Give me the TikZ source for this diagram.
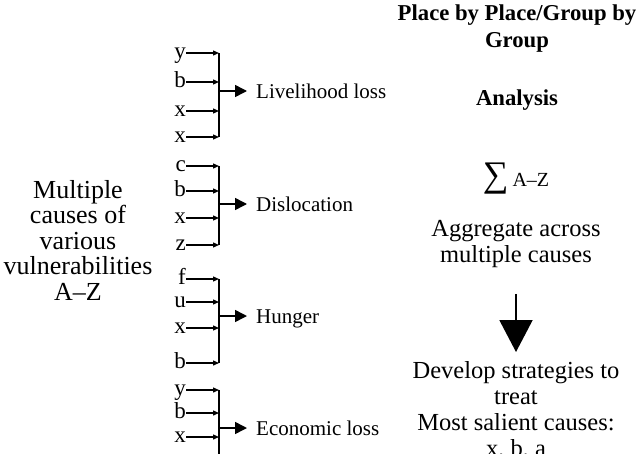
\documentclass[tikz,border=0pt]{standalone}
\usepackage{fontspec}
\setmainfont{Liberation Serif}
\usetikzlibrary{arrows.meta}
\begin{document}
\begin{tikzpicture}[x=1pt,y=-1pt,
  cause/.style={font=\fontsize{23}{23}\selectfont, anchor=base east, inner sep=0pt},
  effect/.style={font=\fontsize{21}{21}\selectfont, anchor=base west, inner sep=0pt},
  block/.style={font=\fontsize{24.5}{26}\selectfont, align=center, inner sep=0pt},
  lefttext/.style={font=\fontsize{26}{25.5}\selectfont, align=center, inner sep=0pt},
  head/.style={font=\bfseries\fontsize{22.7}{27}\selectfont, align=center, inner sep=0pt},
  feed/.style={line width=1.3pt, -{Triangle[length=6pt,width=5pt]}},
  bar/.style={line width=1.6pt},
  outarrow/.style={line width=1.5pt, shorten >=9pt, -{Triangle[length=12pt,width=12pt]}},
  downarrow/.style={line width=2pt, -{Triangle[length=32pt,width=33pt]}}]
\clip (0,0) rectangle (640,453);

% causes on the left
\node[lefttext] (multi) at (78,240)
  {Multiple\\causes of\\various\\vulnerabilities\\A--Z};

% group 1: livelihood loss
\coordinate (g1a) at (219,53);
\coordinate (g1b) at (219,82);
\coordinate (g1c) at (219,111);
\coordinate (g1d) at (219,137);
\coordinate (g1m) at (219,91);
\node[cause] (c1a) at (186,58.5) {y};
\node[cause] (c1b) at (186,87.5) {b};
\node[cause] (c1c) at (186,116.5) {x};
\node[cause] (c1d) at (186,142.5) {x};
\node[effect] (e1) at (256,98) {Livelihood loss};
\draw[bar] (g1a) -- (g1d);
\foreach \k in {a,b,c,d} \draw[feed] (c1\k.east |- g1\k) -- (g1\k);
\draw[outarrow] (g1m) -- (e1.west |- g1m);

% group 2: dislocation
\coordinate (g2a) at (219,166);
\coordinate (g2b) at (219,191);
\coordinate (g2c) at (219,218);
\coordinate (g2d) at (219,245);
\coordinate (g2m) at (219,204);
\node[cause] (c2a) at (186,171.5) {c};
\node[cause] (c2b) at (186,196.5) {b};
\node[cause] (c2c) at (186,223.5) {x};
\node[cause] (c2d) at (186,250.5) {z};
\node[effect] (e2) at (256,211) {Dislocation};
\draw[bar] (g2a) -- (g2d);
\foreach \k in {a,b,c,d} \draw[feed] (c2\k.east |- g2\k) -- (g2\k);
\draw[outarrow] (g2m) -- (e2.west |- g2m);

% group 3: hunger
\coordinate (g3a) at (219,279);
\coordinate (g3b) at (219,302);
\coordinate (g3c) at (219,328);
\coordinate (g3d) at (219,363);
\coordinate (g3m) at (219,316);
\node[cause] (c3a) at (186,284.5) {f};
\node[cause] (c3b) at (186,307.5) {u};
\node[cause] (c3c) at (186,333.5) {x};
\node[cause] (c3d) at (186,368.5) {b};
\node[effect] (e3) at (256,323) {Hunger};
\draw[bar] (g3a) -- (g3d);
\foreach \k in {a,b,c,d} \draw[feed] (c3\k.east |- g3\k) -- (g3\k);
\draw[outarrow] (g3m) -- (e3.west |- g3m);

% group 4: economic loss (runs on below the frame)
\coordinate (g4a) at (219,390);
\coordinate (g4b) at (219,413);
\coordinate (g4c) at (219,437);
\coordinate (g4e) at (219,470);
\coordinate (g4m) at (219,428);
\node[cause] (c4a) at (186,395.5) {y};
\node[cause] (c4b) at (186,418.5) {b};
\node[cause] (c4c) at (186,442.5) {x};
\node[effect] (e4) at (256,435) {Economic loss};
\draw[bar] (g4a) -- (g4e);
\foreach \k in {a,b,c} \draw[feed] (c4\k.east |- g4\k) -- (g4\k);
\draw[outarrow] (g4m) -- (e4.west |- g4m);

% analysis column on the right
\node[head] (title) at (517,29) {Place by Place/Group by\\Group};
\node[head] (analysis) at (517,100) {Analysis};
\node[inner sep=0pt] (sum) at (516,179)
  {{\fontsize{36}{36}\selectfont ∑}\hspace{4pt}{\fontsize{20}{20}\selectfont A--Z}};
\node[block] (agg) at (516,244) {Aggregate across\\multiple causes};
\node[block, anchor=north] (dev) at (516,361)
  {Develop strategies to\\treat\\Most salient causes:\\x, b, a};
\draw[downarrow] ([yshift=-26pt]agg.south) -- ([yshift=9pt]dev.north);
\end{tikzpicture}
\end{document}
